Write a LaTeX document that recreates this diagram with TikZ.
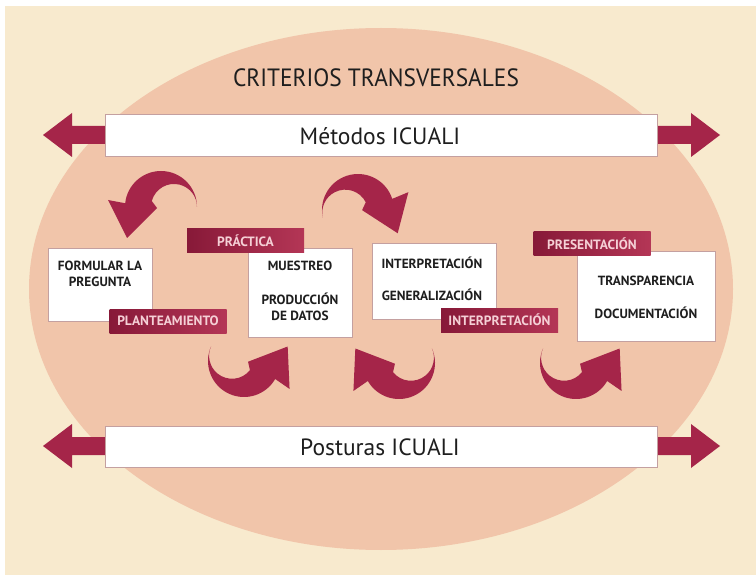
\documentclass[tikz,border=0pt]{standalone}
\usepackage{fontspec}
\setmainfont{PT Sans}
\definecolor{cream}{RGB}{248,234,206}
\definecolor{salmon}{RGB}{241,197,170}
\definecolor{crim}{RGB}{165,37,73}
\definecolor{labdark}{RGB}{135,25,56}
\definecolor{labright}{RGB}{180,54,86}
\definecolor{labtext}{RGB}{245,208,214}
\definecolor{edge}{RGB}{196,160,160}
\definecolor{ink}{RGB}{30,30,30}
\newcommand\crescentarrow{%
  \fill[crim] (36,0) arc[start angle=0,end angle=174,radius=36]
    -- (-53,7) -- (-34,-31) -- (-4,-1) -- (-9.2,6)
    arc[start angle=165,end angle=0,radius=23] -- cycle;}
\begin{document}
\begin{tikzpicture}[x=1pt,y=-1pt,
  whitebox/.style={draw=edge, line width=0.9pt, fill=white, inner sep=0pt},
  bar/.style={draw=edge, line width=0.9pt, fill=white, minimum width=552pt, inner sep=0pt},
  tag/.style={left color=labdark, right color=labright, text=labtext,
    font=\bfseries\fontsize{13.5}{15}\selectfont, inner sep=0pt,
    minimum width=117pt, minimum height=24pt},
  boxtext/.style={font=\bfseries\fontsize{13.3}{16}\selectfont, text=ink, align=center, inner sep=0pt},
  bartext/.style={font=\fontsize{23.5}{26}\selectfont, text=ink, inner sep=0pt}]
\useasboundingbox (0,0) rectangle (756,575);
\fill[white] (0,0) rectangle (756,575);
\fill[cream] (5,6) rectangle (756,575);
\fill[salmon] (381,289) ellipse[x radius=352, y radius=261];
% title
\node[font=\fontsize{25}{28}\selectfont, text=ink, inner sep=0pt] (title) at (376,78) {\scalebox{0.935}[1]{CRITERIOS TRANSVERSALES}};
% double arrows
\fill[crim] (43,135) -- (72,113) -- (72,126) -- (691,126) -- (691,113) -- (720,135)
  -- (691,157) -- (691,144) -- (72,144) -- (72,157) -- cycle;
\fill[crim] (43,446) -- (72,424) -- (72,437) -- (691,437) -- (691,424) -- (720,446)
  -- (691,468) -- (691,455) -- (72,455) -- (72,468) -- cycle;
\node[bar, minimum height=42pt] (metodos) at (381,135) {};
\node[bartext] (metodost) at (380,136) {Métodos ICUALI};
\node[bar, minimum height=41pt] (posturas) at (381,446.5) {};
\node[bartext] (posturast) at (380,447) {Posturas ICUALI};
% curved arrows
\begin{scope}[shift={(161,207)}, yscale=-1] \crescentarrow \end{scope}
\begin{scope}[shift={(358,210)}, yscale=-1, xscale=-1, rotate=12] \crescentarrow \end{scope}
\begin{scope}[shift={(244,361)}, yscale=-1, rotate=-156] \crescentarrow \end{scope}
\begin{scope}[shift={(399,363)}, yscale=-1, xscale=-1, rotate=-156] \crescentarrow \end{scope}
\begin{scope}[shift={(576,363)}, yscale=-1, rotate=-156] \crescentarrow \end{scope}
% boxes
\node[whitebox, minimum width=104pt, minimum height=73pt] (b1) at (100,284.5) {};
\node[whitebox, minimum width=104pt, minimum height=89pt] (b2) at (300,292.5) {};
\node[whitebox, minimum width=124pt, minimum height=76pt] (b3) at (434,281) {};
\node[whitebox, minimum width=138pt, minimum height=90pt] (b4) at (646,296) {};
\node[boxtext] (t1) at (100,274) {FORMULAR LA\\PREGUNTA};
\node[boxtext] (t2a) at (300,266) {MUESTREO};
\node[boxtext] (t2b) at (300,306.5) {PRODUCCIÓN\\DE DATOS};
\node[boxtext] (t3a) at (432,263) {INTERPRETACIÓN};
\node[boxtext] (t3b) at (432,295) {GENERALIZACIÓN};
\node[boxtext] (t4a) at (646,281) {TRANSPARENCIA};
\node[boxtext] (t4b) at (646,313) {DOCUMENTACIÓN};
% tags
\node[tag] (practica) at (245.5,241) {PRÁCTICA};
\node[tag] (planteamiento) at (168,321) {PLANTEAMIENTO};
\node[tag] (interpretacion) at (499.5,320) {INTERPRETACIÓN};
\node[tag] (presentacion) at (592,244) {PRESENTACIÓN};
\end{tikzpicture}
\end{document}
